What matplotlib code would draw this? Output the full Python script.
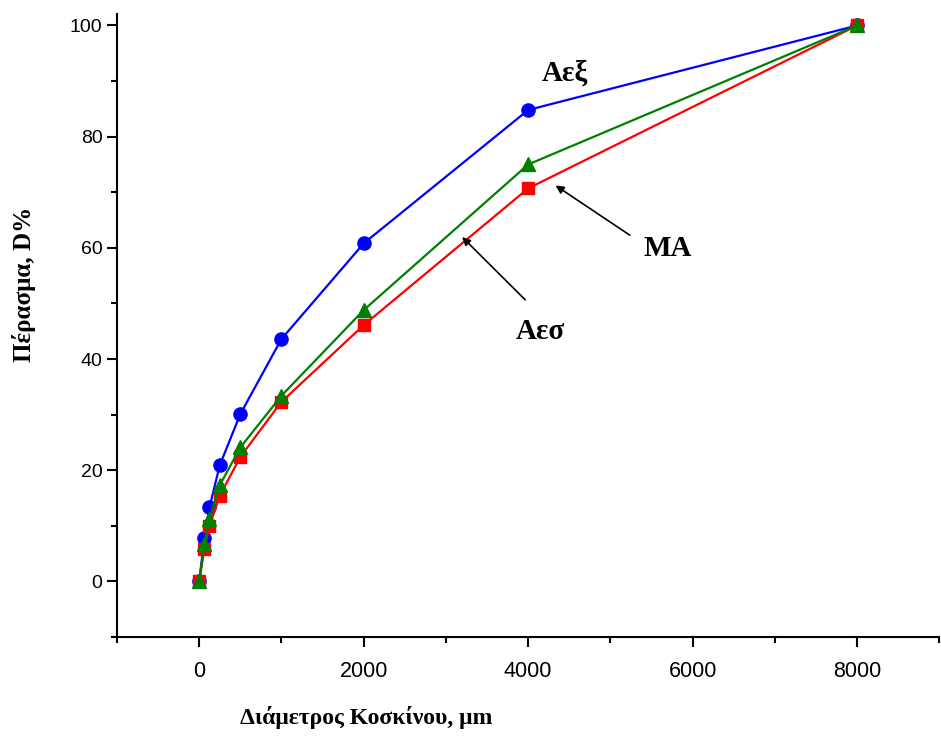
import matplotlib
matplotlib.use('Agg')
from matplotlib import pyplot as plt
from matplotlib.ticker import MultipleLocator

# sieve sizes (um) and passing percentages
sieve = [0, 63, 125, 250, 500, 1000, 2000, 4000, 8000]
aex = [0, 7.8, 13.3, 20.9, 30.1, 43.6, 60.8, 84.8, 100]
aes = [0, 5.9, 10.0, 15.4, 22.4, 32.3, 46.1, 70.7, 100]
ma = [0, 6.7, 11.2, 17.3, 24.1, 33.4, 48.8, 75.0, 100]

serif = ['Liberation Serif', 'DejaVu Serif']
sans = ['Liberation Sans', 'DejaVu Sans']

fig = plt.figure(figsize=(9.41, 7.36), dpi=100)
ax = fig.add_axes([0.1243, 0.1345, 0.874, 0.846])

ax.plot(sieve, aex, '-o', color='blue', lw=1.6, ms=9.5)
ax.plot(sieve, aes, '-s', color='red', lw=1.6, ms=8)
ax.plot(sieve, ma, '-^', color='green', lw=1.6, ms=10)

ax.set_xlim(-1000, 9000)
ax.set_ylim(-10, 102)
ax.xaxis.set_major_locator(MultipleLocator(2000))
ax.xaxis.set_minor_locator(MultipleLocator(1000))
ax.yaxis.set_major_locator(MultipleLocator(20))
ax.yaxis.set_minor_locator(MultipleLocator(10))

for s in ['top', 'right']:
    ax.spines[s].set_visible(False)
for s in ['left', 'bottom']:
    ax.spines[s].set_linewidth(1.5)
ax.tick_params(which='major', direction='out', length=7, width=1.5, labelsize=14)
ax.tick_params(which='minor', direction='out', length=4, width=1.5)
ax.tick_params(axis='x', which='major', labelsize=15.5, pad=10)
for lab in ax.get_xticklabels() + ax.get_yticklabels():
    lab.set_family(sans)

ax.set_xlabel('Διάμετρος Κοσκίνου, μm', family=serif, fontweight='bold',
              fontsize=17)
ax.xaxis.set_label_coords(0.303, -0.111)
ax.set_ylabel('Πέρασμα, D%', family=serif, fontweight='bold', fontsize=18)
ax.yaxis.set_label_coords(-0.099, 0.566)

ax.text(4450, 91.4, 'Αεξ', family=serif, fontweight='bold', fontsize=21,
        ha='center', va='center')
ax.text(5700, 59.8, 'MA', family=serif, fontweight='bold', fontsize=21,
        ha='center', va='center')
ax.text(4150, 45.0, 'Αεσ', family=serif, fontweight='bold', fontsize=21,
        ha='center', va='center')
ax.annotate('', xy=(4304, 71.5), xytext=(5264, 62.0),
            arrowprops=dict(arrowstyle='-|>', color='black', lw=1.2,
                            mutation_scale=12))
ax.annotate('', xy=(3173, 62.3), xytext=(3988, 50.3),
            arrowprops=dict(arrowstyle='-|>', color='black', lw=1.2,
                            mutation_scale=12))

fig.savefig('out.png', dpi=100)
